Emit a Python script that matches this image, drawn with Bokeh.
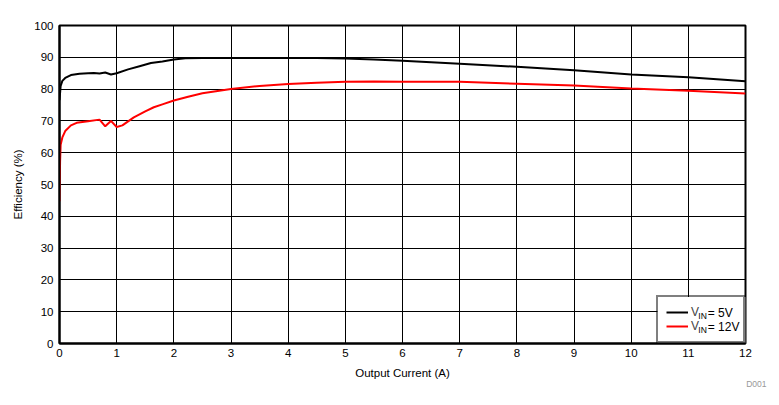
from bokeh.plotting import figure
from bokeh.models import Range1d, FixedTicker, Legend, LegendItem, Title
from bokeh.embed import file_html
from bokeh.resources import INLINE

# ---- data ----
current_5v = [0.0, 0.02, 0.05, 0.1, 0.2, 0.35, 0.5, 0.6, 0.7, 0.8, 0.9, 1.0, 1.2, 1.4, 1.6,
              1.8, 2.0, 2.2, 2.5, 3.0, 3.5, 4.0, 4.5, 5.0, 5.5, 6.0, 7.0, 8.0, 9.0, 10.0, 11.0, 12.0]
eff_5v = [76.5, 81.0, 82.6, 83.5, 84.4, 84.8, 85.0, 85.1, 84.9, 85.2, 84.6, 85.0, 86.2, 87.2, 88.2,
          88.7, 89.3, 89.7, 89.8, 89.8, 89.8, 89.8, 89.8, 89.6, 89.3, 88.9, 88.0, 87.0, 85.9, 84.6, 83.7, 82.5]

current_12v = [0.0, 0.01, 0.02, 0.05, 0.1, 0.2, 0.3, 0.5, 0.7, 0.8, 0.9, 1.0, 1.1, 1.3, 1.5, 1.65,
               1.8, 2.0, 2.25, 2.5, 3.0, 3.5, 4.0, 4.5, 5.0, 5.5, 6.0, 7.0, 8.0, 9.0, 10.0, 11.0, 12.0]
eff_12v = [44.7, 57.0, 62.5, 64.8, 66.8, 68.6, 69.4, 69.9, 70.4, 68.3, 70.0, 68.1, 68.6, 71.1, 73.0, 74.3,
           75.2, 76.4, 77.6, 78.7, 80.0, 81.0, 81.6, 82.0, 82.3, 82.4, 82.3, 82.3, 81.7, 81.1, 80.2, 79.5, 78.6]

x_ticks = list(range(0, 13))
y_ticks = list(range(0, 101, 10))

legend_values = ["= 5V", "= 12V"]

FONT = "Liberation Sans"

p = figure(output_backend="svg", toolbar_location=None,
           frame_width=686, frame_height=318,
           min_border_left=59, min_border_top=25, min_border_right=26, min_border_bottom=50,
           x_range=Range1d(0, 12), y_range=Range1d(0, 100))
p.background_fill_color = "white"
p.border_fill_color = "white"
p.outline_line_color = "black"
p.outline_line_width = 2

r5 = p.line(current_5v, eff_5v, line_color="#000000", line_width=2)
r12 = p.line(current_12v, eff_12v, line_color="#ff0000", line_width=2)

for ax in (p.xaxis[0], p.yaxis[0]):
    ax.axis_line_color = "black"
    ax.axis_line_width = 2
    ax.major_tick_out = 0
    ax.major_tick_in = 0
    ax.minor_tick_out = 0
    ax.minor_tick_in = 0
    ax.major_label_text_font = FONT
    ax.major_label_text_font_size = "11.5px"
    ax.major_label_text_color = "black"
    ax.axis_label_text_font = FONT
    ax.axis_label_text_font_size = "11.5px"
    ax.axis_label_text_font_style = "normal"
    ax.axis_label_text_color = "black"

p.xaxis.ticker = FixedTicker(ticks=x_ticks)
p.yaxis.ticker = FixedTicker(ticks=y_ticks)
p.xaxis.axis_label = "Output Current (A)"
p.yaxis.axis_label = "Efficiency (%)"
p.xaxis.major_label_standoff = 5
p.yaxis.major_label_standoff = 6
p.xaxis.axis_label_standoff = 7
p.yaxis.axis_label_standoff = 7

for g in (p.xgrid[0], p.ygrid[0]):
    g.grid_line_color = "black"
    g.grid_line_width = 1
    g.grid_line_alpha = 1
p.xgrid.ticker = FixedTicker(ticks=x_ticks)
p.ygrid.ticker = FixedTicker(ticks=y_ticks)

# white backing of the legend box (keeps grid lines from showing through)
p.quad(left=[10.46], right=[12.0], bottom=[0.0], top=[14.6],
       fill_color="white", line_color=None)

legend = Legend(items=[LegendItem(label="V", renderers=[r5]),
                       LegendItem(label="V", renderers=[r12])],
                location="bottom_right", margin=0, padding=8, spacing=0,
                glyph_width=22, glyph_height=14, label_height=14, label_width=44,
                label_standoff=3, label_text_font=FONT, label_text_font_size="12px",
                border_line_color="black", border_line_width=2,
                background_fill_color="white", background_fill_alpha=0.0)
p.add_layout(legend)

# subscripts and remaining legend text
sub = p.text(x=[11.175, 11.175], y=[8.6, 4.2], text=["IN", "IN"],
             text_font_size="8.5px", text_baseline="middle",
             text_align="left", text_color="black")
rest = p.text(x=[11.34, 11.34], y=[9.5, 5.1], text=legend_values,
              text_font_size="12px", text_baseline="middle",
              text_align="left", text_color="black")

d001 = Title(text="D001", align="right", offset=-21, text_font=FONT,
             text_font_size="8.5px", text_font_style="normal",
             text_color="#999999", standoff=0)
try:
    d001.standoff = -10
except Exception:
    d001.standoff = 0
p.add_layout(d001, "below")

open("out.html", "w").write(file_html(p, INLINE))
